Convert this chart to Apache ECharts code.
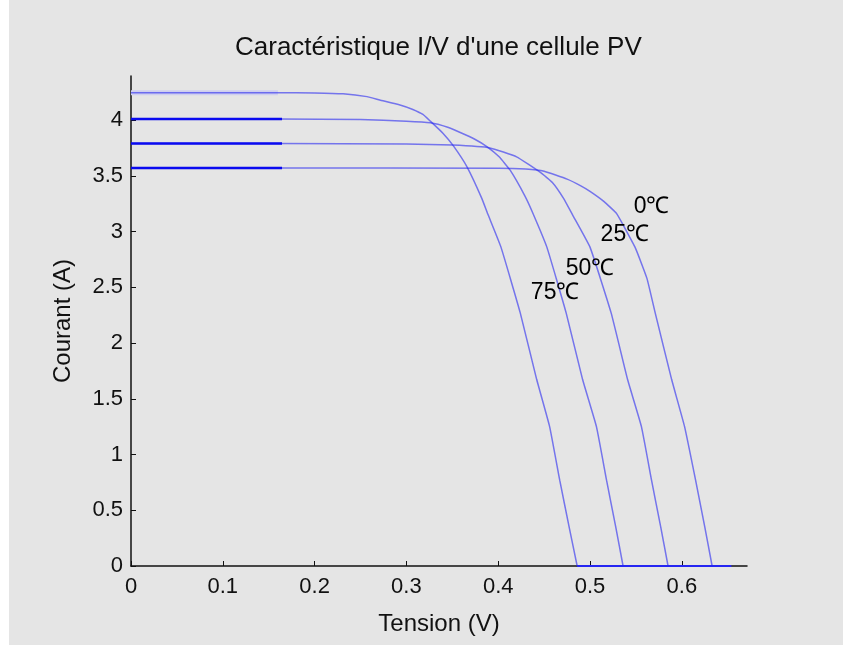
<!DOCTYPE html>
<html>
<head>
<meta charset="utf-8">
<script src="https://cdn.jsdelivr.net/npm/echarts@6/dist/echarts.min.js"></script>
<style>
html,body{margin:0;padding:0;background:#ffffff;}
#chart{position:absolute;left:9px;top:0;width:834px;height:645px;background:#e5e5e5;}
</style>
</head>
<body>
<div id="chart"></div>
<script>
// Tick values
const xTicks = [0, 0.1, 0.2, 0.3, 0.4, 0.5, 0.6];
const yTicks = [0, 0.5, 1, 1.5, 2, 2.5, 3, 3.5, 4];

// 75 °C curve (up to open-circuit voltage)
const v75 = [0, 0.16, 0.2, 0.231, 0.257, 0.271, 0.293, 0.307, 0.318, 0.326, 0.34, 0.351, 0.366, 0.382, 0.389, 0.403, 0.424, 0.442, 0.456, 0.467, 0.477, 0.486];
const i75 = [4.245, 4.245, 4.243, 4.235, 4.21, 4.18, 4.135, 4.095, 4.05, 3.99, 3.88, 3.77, 3.58, 3.30, 3.15, 2.86, 2.27, 1.67, 1.25, 0.77, 0.36, 0];
// 50 °C curve
const v50 = [0, 0.16, 0.25, 0.3, 0.326, 0.345, 0.358, 0.374, 0.388, 0.401, 0.413, 0.429, 0.438, 0.453, 0.474, 0.492, 0.507, 0.518, 0.528, 0.536];
const i50 = [4.01, 4.01, 4.005, 3.99, 3.975, 3.935, 3.89, 3.83, 3.76, 3.67, 3.55, 3.32, 3.16, 2.86, 2.27, 1.67, 1.25, 0.77, 0.35, 0];
// 25 °C curve
const v25 = [0, 0.16, 0.3, 0.35, 0.391, 0.42, 0.446, 0.459, 0.471, 0.481, 0.500, 0.523, 0.541, 0.556, 0.567, 0.577, 0.585];
const i25 = [3.79, 3.79, 3.785, 3.775, 3.75, 3.67, 3.53, 3.44, 3.30, 3.15, 2.86, 2.27, 1.67, 1.25, 0.77, 0.35, 0];
// 0 °C curve
const v0 = [0, 0.16, 0.40, 0.43, 0.45, 0.475, 0.49, 0.50, 0.515, 0.529, 0.549, 0.562, 0.571, 0.589, 0.603, 0.615, 0.625, 0.633];
const i0 = [3.57, 3.57, 3.568, 3.56, 3.54, 3.47, 3.41, 3.36, 3.27, 3.16, 2.86, 2.58, 2.27, 1.67, 1.25, 0.77, 0.35, 0];

// zero-current tail shared by all curves (from first Voc to end of sweep)
const tailV = [0.486, 0.654];
const tailI = [0, 0];

// short bold segments near V=0
const segV = [0, 0.1645];
const segDarkI = [4.01, 3.79, 3.57];
const segLightI = [4.245];
const segLightV = [0, 0.16];

// temperature labels
const labelV = [0.547, 0.511, 0.473, 0.435];
const labelI = [3.22, 2.97, 2.67, 2.45];
const labelText = ['0\u2103', '25\u2103', '50\u2103', '75\u2103'];

const FONT = 'Liberation Sans, Arial, sans-serif';
const pairs = (vs, is) => vs.map((v, k) => [v, is[k]]);

const curveStyle = { color: 'rgba(40,40,240,0.6)', width: 1.5 };
const series = [];
series.push({ type: 'line', data: segLightV.map(v => [v, segLightI[0]]), symbol: 'none', lineStyle: { color: '#cfcfee', width: 5 }, z: 2 });
[[v75, i75], [v50, i50], [v25, i25], [v0, i0]].forEach(c => {
  series.push({ type: 'line', data: pairs(c[0], c[1]), symbol: 'none', smooth: 0.12, lineStyle: curveStyle, z: 3 });
});
series.push({ type: 'line', data: pairs(tailV, tailI), symbol: 'none', lineStyle: { color: '#2626f2', width: 2 }, z: 4 });
segDarkI.forEach(iv => {
  series.push({ type: 'line', data: segV.map(v => [v, iv]), symbol: 'none', lineStyle: { color: '#0a0af0', width: 2.5 }, z: 4 });
});
series.push({
  type: 'scatter', symbolSize: 1, itemStyle: { opacity: 0 }, z: 5, silent: true,
  data: labelV.map((v, k) => ({ value: [v, labelI[k]], name: labelText[k] })),
  label: { show: true, position: 'right', distance: 0, formatter: p => p.name, color: '#000', opacity: 1, fontFamily: FONT, fontSize: 23 }
});

const chart = echarts.init(document.getElementById('chart'));
chart.setOption({
  backgroundColor: '#e5e5e5',
  animation: false,
  title: {
    text: "Caract\u00e9ristique I/V d'une cellule PV",
    left: 221, top: 30,
    textStyle: { fontFamily: FONT, fontSize: 26, fontWeight: 'normal', color: '#111' }
  },
  grid: { left: 122, top: 76, width: 616, height: 490 },
  xAxis: {
    type: 'value', min: 0, max: 0.671,
    name: 'Tension (V)', nameLocation: 'middle', nameGap: 46,
    nameTextStyle: { fontFamily: FONT, fontSize: 24, color: '#111' },
    axisLine: { show: true, lineStyle: { color: '#111', width: 1.5 } },
    axisTick: { show: true, inside: true, length: 5, customValues: xTicks, lineStyle: { color: '#111' } },
    axisLabel: { customValues: xTicks, margin: 10, fontFamily: FONT, fontSize: 22, color: '#111', formatter: v => String(v) },
    splitLine: { show: false }
  },
  yAxis: {
    type: 'value', min: 0, max: 4.395,
    name: 'Courant (A)', nameLocation: 'middle', nameGap: 56, nameRotate: 90,
    nameTextStyle: { fontFamily: FONT, fontSize: 24, color: '#111' },
    axisLine: { show: true, lineStyle: { color: '#111', width: 1.5 } },
    axisTick: { show: true, inside: true, length: 5, customValues: yTicks, lineStyle: { color: '#111' } },
    axisLabel: { customValues: yTicks, margin: 8, fontFamily: FONT, fontSize: 22, color: '#111', formatter: v => String(v) },
    splitLine: { show: false }
  },
  series: series
});
</script>
</body>
</html>
